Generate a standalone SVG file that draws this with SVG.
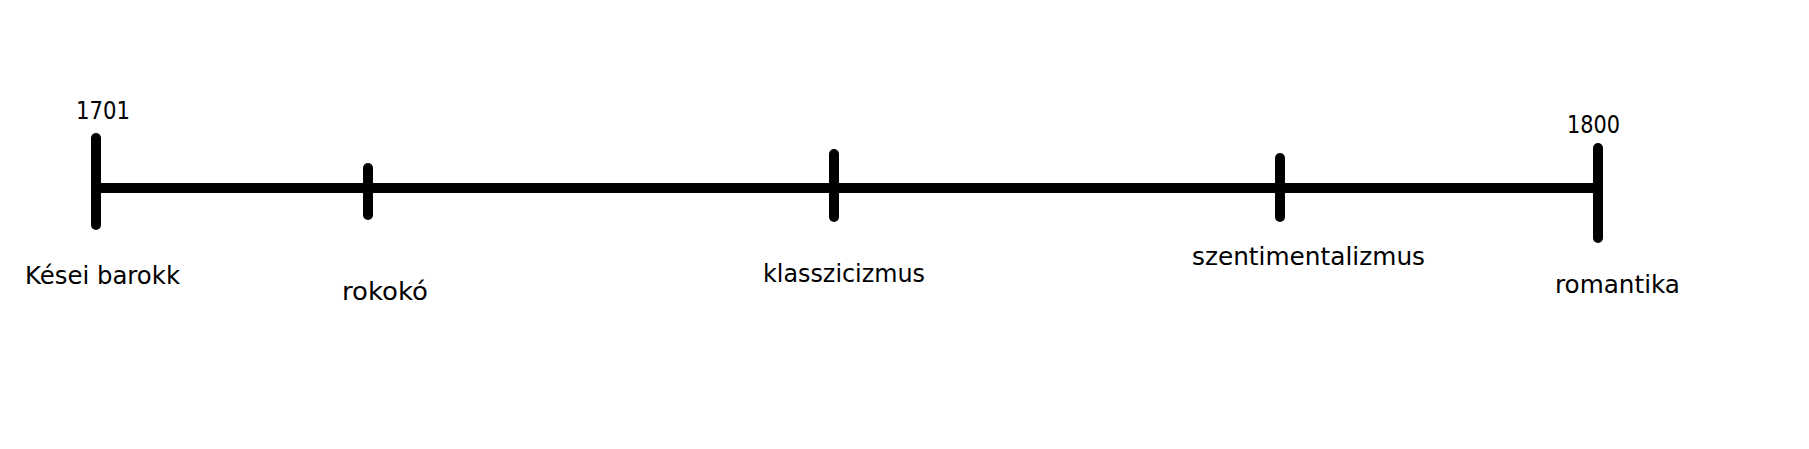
<svg xmlns="http://www.w3.org/2000/svg" width="1809" height="449" viewBox="0 0 1809 449">
<style>
.ln{stroke:#000;stroke-width:10;stroke-linecap:round;fill:none}
.t{font-family:"DejaVu Sans","Liberation Sans",sans-serif;font-size:24px;fill:#000}
</style>
<rect width="1809" height="449" fill="#fff"/>
<g id="connectors">
<line class="ln" x1="96" y1="188" x2="1598" y2="188"/>
</g>
<g id="tick-1701">
<line class="ln" x1="96" y1="138" x2="96" y2="225"/>
<text class="t" x="76" y="119" textLength="54" lengthAdjust="spacingAndGlyphs">1701</text>
<text class="t" x="25" y="284" textLength="155" lengthAdjust="spacingAndGlyphs">Kései barokk</text>
</g>
<g id="tick-rokoko">
<line class="ln" x1="368" y1="168" x2="368" y2="215"/>
<text class="t" x="342" y="300" textLength="86" lengthAdjust="spacingAndGlyphs">rokokó</text>
</g>
<g id="tick-klasszicizmus">
<line class="ln" x1="834" y1="154" x2="834" y2="217"/>
<text class="t" x="763" y="282" textLength="162" lengthAdjust="spacingAndGlyphs">klasszicizmus</text>
</g>
<g id="tick-szentimentalizmus">
<line class="ln" x1="1280" y1="158" x2="1280" y2="217"/>
<text class="t" x="1192" y="265" textLength="233" lengthAdjust="spacingAndGlyphs">szentimentalizmus</text>
</g>
<g id="tick-1800">
<line class="ln" x1="1598" y1="148" x2="1598" y2="238"/>
<text class="t" x="1567" y="133" textLength="53" lengthAdjust="spacingAndGlyphs">1800</text>
<text class="t" x="1555" y="293" textLength="125" lengthAdjust="spacingAndGlyphs">romantika</text>
</g>
</svg>
